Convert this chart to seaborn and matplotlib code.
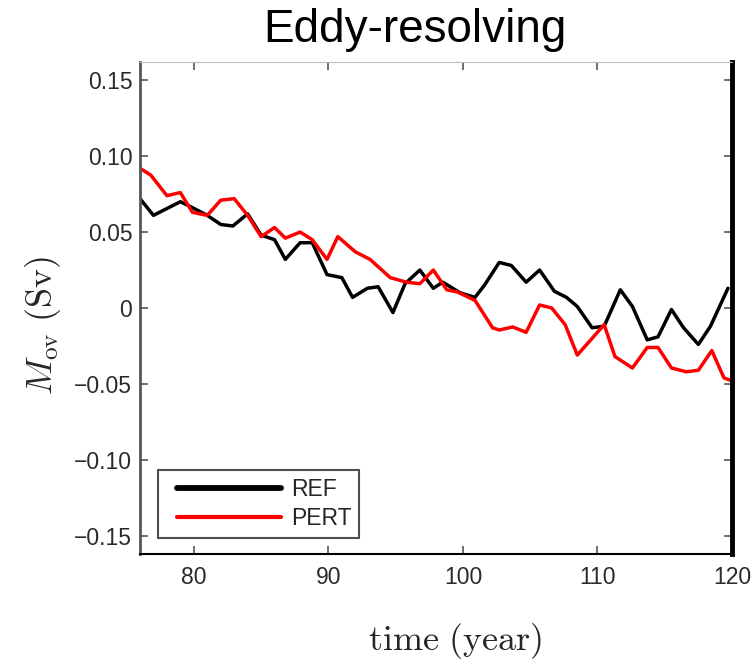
import matplotlib
matplotlib.use("Agg")
import matplotlib.pyplot as plt
from matplotlib.lines import Line2D
from matplotlib.legend_handler import HandlerLine2D
import seaborn as sns
import pandas as pd

# ---------------- data ----------------
ref_time = [76.0, 77.0, 79.0, 79.7, 81.0, 82.0, 82.9, 84.0, 85.0, 86.0, 86.8,
            87.9, 88.8, 89.9, 91.0, 91.8, 92.9, 93.7, 94.8, 95.7, 96.8, 97.8,
            98.5, 99.8, 100.9, 101.6, 102.7, 103.6, 104.7, 105.7, 106.8, 107.7,
            108.5, 109.6, 110.5, 111.7, 112.6, 113.7, 114.5, 115.5, 116.4,
            117.5, 118.4, 119.7]
ref_mov = [0.072, 0.061, 0.070, 0.067, 0.061, 0.055, 0.054, 0.062, 0.048,
           0.045, 0.032, 0.043, 0.043, 0.022, 0.020, 0.007, 0.013, 0.014,
           -0.003, 0.016, 0.025, 0.013, 0.017, 0.010, 0.007, 0.015, 0.030,
           0.028, 0.017, 0.025, 0.011, 0.007, 0.001, -0.013, -0.012, 0.012,
           0.001, -0.021, -0.019, -0.001, -0.013, -0.024, -0.012, 0.013]

pert_time = [76.0, 76.8, 78.0, 79.0, 79.9, 81.0, 82.0, 83.0, 84.0, 85.0, 86.0,
             86.8, 87.9, 88.8, 89.9, 90.7, 92.0, 93.1, 94.6, 95.8, 96.8, 97.8,
             98.8, 99.6, 100.9, 102.2, 102.7, 103.7, 104.7, 105.7, 106.6,
             107.6, 108.5, 109.7, 110.5, 111.3, 112.6, 113.7, 114.5, 115.5,
             116.6, 117.5, 118.5, 119.4, 120.0]
pert_mov = [0.092, 0.0875, 0.074, 0.076, 0.063, 0.061, 0.071, 0.072, 0.061,
            0.047, 0.053, 0.046, 0.050, 0.045, 0.032, 0.047, 0.037, 0.032,
            0.020, 0.017, 0.016, 0.025, 0.012, 0.0105, 0.005, -0.013, -0.0145,
            -0.0125, -0.016, 0.002, 0.0, -0.011, -0.031, -0.019, -0.011,
            -0.032, -0.0395, -0.026, -0.026, -0.0395, -0.042, -0.041, -0.028,
            -0.046, -0.048]

series_names = ["REF", "PERT"]
series_colors = ["black", "red"]
xticks = [80, 90, 100, 110, 120]
yticks = [0.15, 0.10, 0.05, 0, -0.05, -0.10, -0.15]
ytick_labels = ["0.15", "0.10", "0.05", "0", "\u22120.05", "\u22120.10", "\u22120.15"]
title = "Eddy-resolving"
xlabel = r"$\mathrm{time\ (year)}$"
ylabel = r"$M_{\mathrm{ov}}\ \mathrm{(Sv)}$"

df = pd.concat([
    pd.DataFrame({"time": ref_time, "mov": ref_mov, "run": series_names[0]}),
    pd.DataFrame({"time": pert_time, "mov": pert_mov, "run": series_names[1]}),
], ignore_index=True)

# ---------------- style ----------------
sns.set_style("ticks")
plt.rcParams["font.family"] = ["Liberation Sans", "DejaVu Sans"]
plt.rcParams["mathtext.fontset"] = "cm"

fig = plt.figure(figsize=(7.56, 6.6), dpi=100)
ax = fig.add_axes([140 / 756, 1 - 554 / 660, 592 / 756, 492 / 660])

sns.lineplot(data=df, x="time", y="mov", hue="run",
             palette=dict(zip(series_names, series_colors)),
             estimator=None, sort=False, linewidth=2.5, ax=ax)

ax.set_xlim(76, 120)
ax.set_ylim(-0.162, 0.162)
ax.set_xticks(xticks)
ax.set_xticklabels([str(t) for t in xticks])
ax.set_yticks(yticks)
ax.set_yticklabels(ytick_labels)

ax.tick_params(direction="in", length=6, width=1.2, colors="#555",
               labelcolor="#2a2a2a", labelsize=16.5, top=True, right=True)
ax.tick_params(axis="x", pad=9)
ax.tick_params(axis="y", pad=5.5)

for side, lw, col in [("left", 2.0, "#555"), ("bottom", 1.5, "black"),
                      ("right", 3.5, "black"), ("top", 0.8, "#bbb")]:
    ax.spines[side].set_visible(True)
    ax.spines[side].set_linewidth(lw)
    ax.spines[side].set_color(col)

ax.set_xlabel(xlabel, fontsize=26, va="center")
ax.xaxis.set_label_coords((455 - 140) / 592, (554 - 641) / 492)
ax.set_ylabel(ylabel, fontsize=26, va="center")
ax.yaxis.set_label_coords((43 - 140) / 592, (554 - 325) / 492)

fig.text(415 / 756, 1 - 42 / 660, title, ha="center", va="baseline",
         fontsize=33, color="black")

leg = ax.legend(loc="lower left", bbox_to_anchor=(18 / 592, 16 / 492),
                borderaxespad=0, frameon=True, fancybox=False, fontsize=16.5,
                handlelength=5.0, handletextpad=0.45, borderpad=0.35,
                labelspacing=0.25, title=None,
                handler_map={Line2D: HandlerLine2D(xpad=0.5)})
leg.get_frame().set_edgecolor("#222")
leg.get_frame().set_linewidth(1.5)
lws = [4.2, 3.0]
for line, lw in zip(leg.get_lines(), lws):
    line.set_linewidth(lw)

fig.savefig("out.png", dpi=100)
